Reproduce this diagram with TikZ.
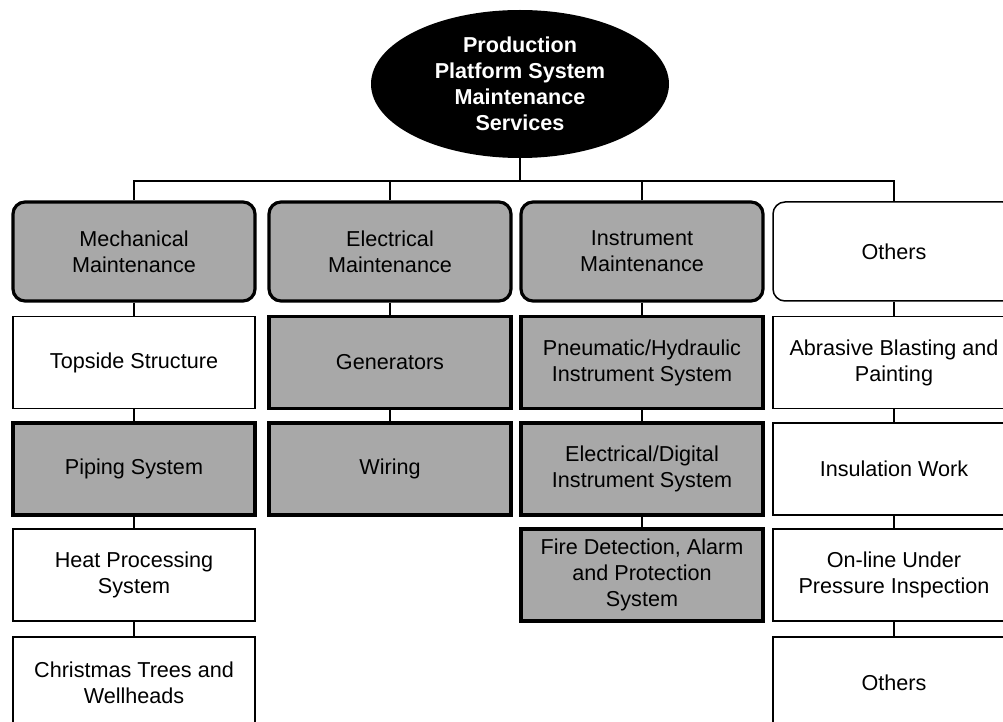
\documentclass[tikz,border=0pt]{standalone}
\usepackage{fontspec}
\setmainfont{Liberation Sans}
\usetikzlibrary{shapes.geometric}
\definecolor{gris}{HTML}{A8A8A8}

\begin{document}
\begin{tikzpicture}[x=0.5pt, y=-0.5pt, font=\fontsize{10.8}{13}\selectfont,
    caja/.style={draw, minimum width=121pt, minimum height=46pt, inner sep=0pt,
                 align=center, line width=0.75pt},
    gruesa/.style={caja, fill=gris, line width=1.6pt},
    cabeza/.style={gruesa, rounded corners=6pt, minimum height=49.5pt},
    linea/.style={line width=0.6pt}]
    \useasboundingbox (0,0) rectangle (1003,722);
    \clip (0,0) rectangle (1003,722);
    % raiz
    \node[ellipse, fill=black, minimum width=149pt, minimum height=74pt, inner sep=0pt,
          text=white, align=center, font=\fontsize{10.8}{13}\selectfont\bfseries]
          (top) at (520,84) {Production\\Platform System\\Maintenance\\Services};
    % cabeceras
    \node[cabeza] (mech) at (134,251.5) {Mechanical\\Maintenance};
    \node[cabeza] (elec) at (390,251.5) {Electrical\\Maintenance};
    \node[cabeza] (inst) at (642,251.5) {Instrument\\Maintenance};
    \node[caja, rounded corners=6pt, minimum height=49.5pt] (oth) at (894,251.5) {Others};
    % segunda fila
    \node[caja] (tops) at (134,362.5) {Topside Structure};
    \node[gruesa] (gen) at (390,362.5) {Generators};
    \node[gruesa] (pneu) at (642,362.5) {Pneumatic/Hydraulic\\Instrument System};
    \node[caja] (abr) at (894,362.5) {Abrasive Blasting and\\Painting};
    % tercera fila
    \node[gruesa] (pip) at (134,469) {Piping System};
    \node[gruesa] (wir) at (390,469) {Wiring};
    \node[gruesa] (elecd) at (642,469) {Electrical/Digital\\Instrument System};
    \node[caja] (ins) at (894,469) {Insulation Work};
    % cuarta fila
    \node[caja] (heat) at (134,575) {Heat Processing\\System};
    \node[gruesa] (fire) at (642,575) {Fire Detection, Alarm\\and Protection\\System};
    \node[caja] (onl) at (894,575) {On-line Under\\Pressure Inspection};
    % quinta fila
    \node[caja] (xmas) at (134,683) {Christmas Trees and\\Wellheads};
    \node[caja] (oth2) at (894,683) {Others};
    % conexiones
    \coordinate (bus) at (520,181);
    \draw[linea] (top.south) -- (bus);
    \foreach \n in {mech,elec,inst,oth}
      \draw[linea] (\n.north) |- (bus);
    \foreach \a/\b in {mech/tops, tops/pip, pip/heat, heat/xmas, elec/gen, gen/wir,
                       inst/pneu, pneu/elecd, elecd/fire, oth/abr, abr/ins, ins/onl, onl/oth2}
      \draw[linea] (\a.south) -- (\b.north);
\end{tikzpicture}
\end{document}
